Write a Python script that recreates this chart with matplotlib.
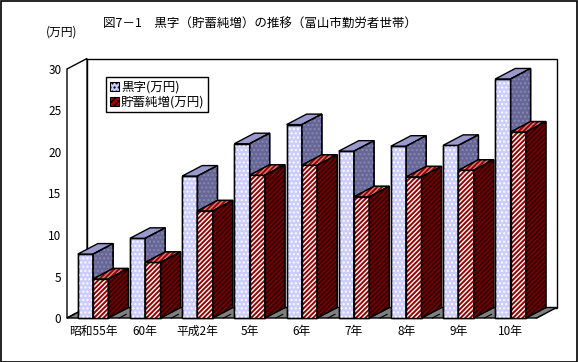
import matplotlib
matplotlib.use("Agg")
import matplotlib.pyplot as plt
from matplotlib.patches import Polygon, Rectangle, Patch

plt.rcParams['font.family'] = ['Noto Sans CJK JP', 'DejaVu Sans']
plt.rcParams['hatch.linewidth'] = 1.0

# data (万円)
years = ['昭和55年', '60年', '平成2年', '5年', '6年', '7年', '8年', '9年', '10年']
kuroji = [7.7, 9.6, 17.1, 21.0, 23.3, 20.1, 20.7, 20.8, 28.8]
chochiku = [4.7, 6.7, 12.9, 17.2, 18.4, 14.6, 17.0, 17.8, 22.4]
series_names = ['黒字(万円)', '貯蓄純増(万円)']

W, H = 578, 362
fig = plt.figure(figsize=(W / 100, H / 100), dpi=100)
fig.patch.set_facecolor('white')

# front plane of the 3D box
ax = fig.add_axes([67 / W, (H - 318) / H, (536.7 - 67) / W, (318 - 69) / H])
n = len(years)
ax.set_xlim(0, n)
ax.set_ylim(0, 30)
for s in ax.spines.values():
    s.set_visible(False)
ax.patch.set_visible(False)

# depth offset in data units
dx = 20 / ((536.7 - 67) / n)
dy = 10.5 / ((318 - 69) / 30)
ymax = 30


def poly(pts, fc, hatch=None, hc=None, z=1):
    ax.add_patch(Polygon(pts, closed=True, facecolor=fc, edgecolor='black',
                         linewidth=1.0, zorder=z, clip_on=False))
    if hatch:
        ax.add_patch(Polygon(pts, closed=True, facecolor='none', edgecolor=hc,
                             hatch=hatch, linewidth=0, zorder=z, clip_on=False))
        ax.add_patch(Polygon(pts, closed=True, facecolor='none', edgecolor='black',
                             linewidth=1.0, zorder=z, clip_on=False))


# walls and floor
poly([(dx, dy), (n + dx, dy), (n + dx, ymax + dy), (dx, ymax + dy)], 'white', z=0.5)
poly([(0, 0), (0, ymax), (dx, ymax + dy), (dx, dy)], 'white', z=0.6)
poly([(0, 0), (n, 0), (n + dx, dy), (dx, dy)], '#808080', z=0.7)
for i in range(n + 1):
    ax.plot([i, i + dx * 0.35], [0, dy * 0.35], color='black', lw=0.8,
            zorder=0.8, clip_on=False)

# bars
w = 0.293
styles = [
    # front, hatch, hatch colour, top, hatch, hatch colour, side, hatch, hatch colour
    ('#CCCCFF', '....', 'white', '#9999CC', None, None, '#666699', '....', '#8888AA'),
    ('#990000', '///////', 'white', '#990000', '///////', '#D08080', '#330000', '///////', '#800000'),
]
for i in range(n):
    c = i + 0.5
    for k, vals in enumerate([kuroji, chochiku]):
        v = vals[i]
        x0 = c - w + k * w
        x1 = x0 + w
        ffc, fh, fhc, tfc, th, thc, sfc, sh, shc = styles[k]
        z = 2 + i * 0.1 + k * 0.01
        poly([(x0, 0), (x1, 0), (x1, v), (x0, v)], ffc, fh, fhc, z)
        poly([(x0, v), (x1, v), (x1 + dx, v + dy), (x0 + dx, v + dy)], tfc, th, thc, z)
        poly([(x1, 0), (x1 + dx, dy), (x1 + dx, v + dy), (x1, v)], sfc, sh, shc, z)

ax.set_yticks(range(0, 31, 5))
ax.set_xticks([i + 0.5 for i in range(n)])
ax.set_xticklabels(years)
ax.tick_params(axis='y', length=0, labelsize=8.5, pad=4)
ax.tick_params(axis='x', length=0, labelsize=8.5, pad=5)

# legend
plt.rcParams['hatch.color'] = 'white'
handles = [Patch(facecolor='#CCCCFF', edgecolor='black', hatch='....', linewidth=0.8),
           Patch(facecolor='#990000', edgecolor='black', hatch='/////', linewidth=0.8)]
leg = fig.legend(handles, series_names, loc='upper left',
                 bbox_to_anchor=(106 / W, 1 - 77 / H), fontsize=9,
                 frameon=True, fancybox=False, framealpha=1, edgecolor='black',
                 handlelength=0.7, handleheight=0.7, handletextpad=0.2,
                 borderpad=0.3, labelspacing=0.15, borderaxespad=0)
leg.get_frame().set_linewidth(1.0)

fig.text(260 / W, 1 - 24 / H, '図7－1　黒字（貯蓄純増）の推移（富山市勤労者世帯）',
         ha='center', va='center', fontsize=9)
fig.text(62 / W, 1 - 32 / H, '(万円)', ha='center', va='center', fontsize=8.5)

# outer frame
fig.add_artist(Rectangle((0.5 / W, 0.5 / H), 1 - 1.5 / W, 1 - 1.5 / H,
                         transform=fig.transFigure, fill=False,
                         edgecolor='black', linewidth=1.2))

fig.savefig('out.png', dpi=100)
